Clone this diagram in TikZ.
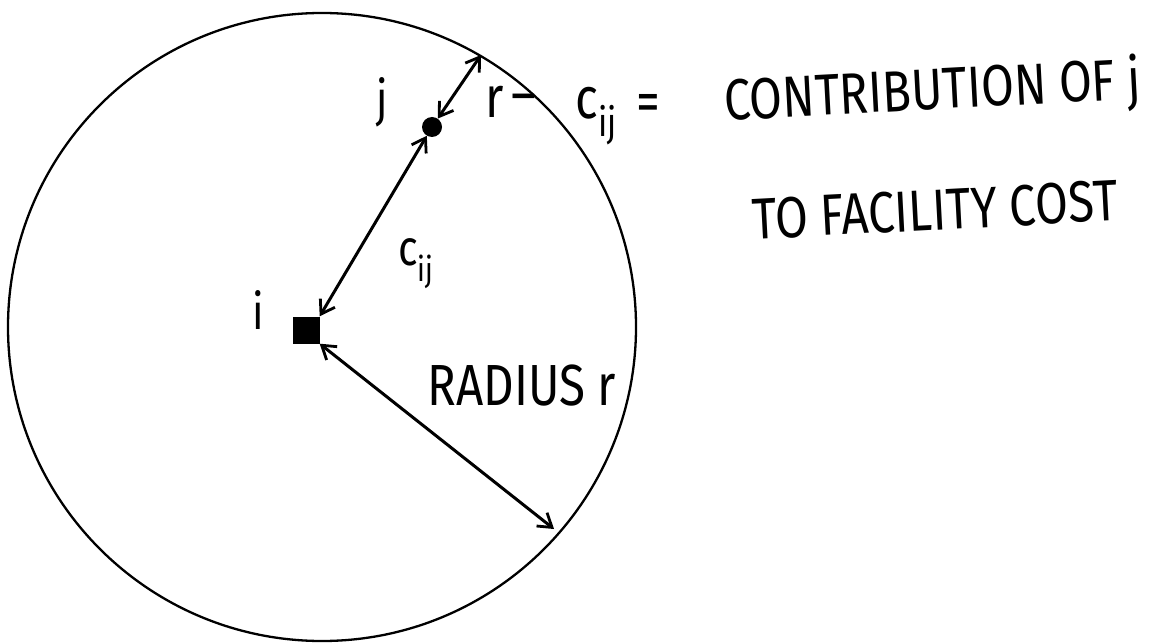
\documentclass[tikz,border=0pt]{standalone}
\usepackage{fontspec}
\setmainfont{Fira Sans}
\newfontfamily\hand[FakeStretch=0.82]{Fira Sans}
\usetikzlibrary{arrows.meta}
\newcommand{\cijlab}[1]{c\raisebox{-0.32em}{\fontsize{#1}{#1}\selectfont ij}}
\begin{document}
\begin{tikzpicture}[x=1pt,y=-1pt,
  hand/.style={line width=3pt, line cap=round,
    {Straight Barb[length=13pt,width=17pt,line width=2.8pt]}-{Straight Barb[length=13pt,width=17pt,line width=2.8pt]}},
  lbl/.style={inner sep=0pt, font=\hand\fontsize{58}{62}\selectfont},
  small/.style={inner sep=0pt, font=\hand\fontsize{50}{54}\selectfont},
 ]
\useasboundingbox (0,0) rectangle (1156,644);
\draw[line width=2.3pt] (322,327) circle[radius=314pt];
\node[fill=black, minimum size=27pt, inner sep=0pt] (i) at (306,330) {};
\node[circle, fill=black, minimum size=20pt, inner sep=0pt] (j) at (432,127) {};
\coordinate (e1) at (481,55);
\coordinate (e2) at (554,529);
\draw[hand] (j) -- (e1);
\draw[hand] (i.north east) -- (j);
\draw[hand] (i.south east) -- (e2);
% labels
\node[small] (lj) at (382,102) {j};
\node[small] (li) at (258,310) {i};
\node[small] (lc) at (416,264) {\cijlab{34}};
\node[lbl] (lr) at (495,102) {r};
\node[lbl] (lm) at (524,104) {–};
\node[lbl] (lcc) at (596,116) {\cijlab{40}};
\node[lbl] (leq) at (648,108) {=};
\node[lbl, anchor=west, rotate=3] (contrib) at (724,104) {CONTRIBUTION OF j};
\node[lbl, rotate=3] (fac) at (935,210) {TO FACILITY COST};
\node[lbl] (rad) at (522,386) {RADIUS r};
\end{tikzpicture}
\end{document}
